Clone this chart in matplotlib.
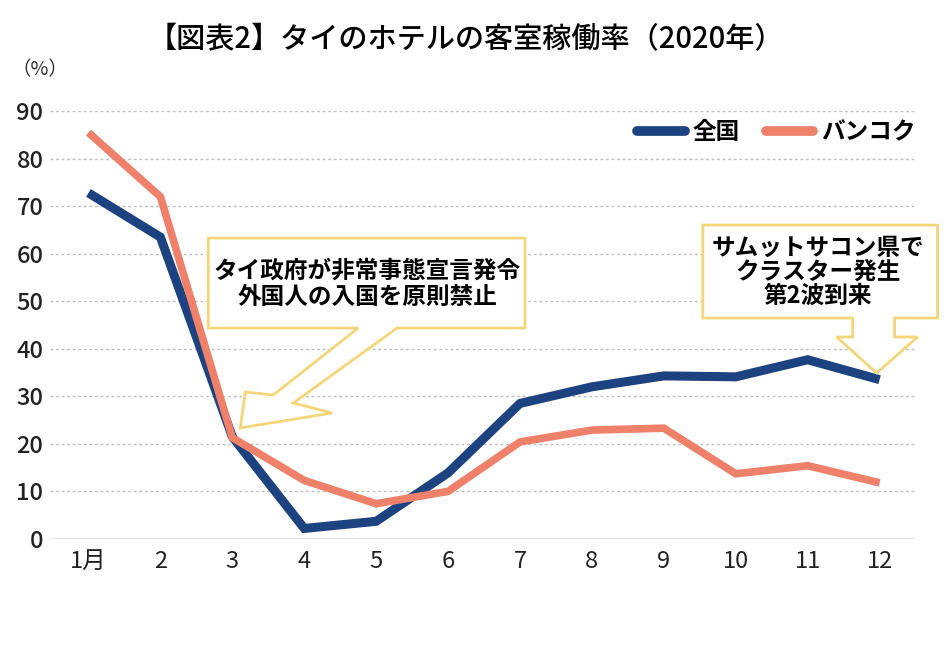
import matplotlib
matplotlib.use("Agg")
import matplotlib.pyplot as plt
from matplotlib.patches import Polygon

plt.rcParams['font.family'] = ['Noto Sans CJK JP', 'DejaVu Sans']

months = list(range(1, 13))
month_labels = ['1月', '2', '3', '4', '5', '6', '7', '8', '9', '10', '11', '12']
nationwide = [72.8, 63.5, 21.5, 2.2, 3.7, 13.9, 28.5, 32.0, 34.3, 34.1, 37.7, 33.5]
bangkok = [85.5, 72.0, 21.3, 12.3, 7.4, 10.0, 20.4, 22.9, 23.3, 13.7, 15.4, 11.8]
yticks = [0, 10, 20, 30, 40, 50, 60, 70, 80, 90]

navy = '#1c4280'
salmon = '#ef8069'
yellow = '#f3d67a'

fig = plt.figure(figsize=(9.5, 6.54), dpi=100)
ax = fig.add_axes([0.053, 0.176, 0.91, 0.654])

for v in yticks[1:]:
    ax.axhline(v, color='#bdbdbd', lw=1.0, ls=(0, (2, 2)), zorder=1)
ax.axhline(0, color='#e0e0e0', lw=1.8, zorder=1)

ax.plot(months, nationwide, color=navy, lw=6.5, solid_joinstyle='miter',
        solid_capstyle='butt', label='全国', zorder=3)
ax.plot(months, bangkok, color=salmon, lw=5.5, solid_joinstyle='miter',
        solid_capstyle='butt', label='バンコク', zorder=3)

ax.set_xlim(0.47, 12.49)
ax.set_ylim(0, 90)
ax.set_xticks(months)
ax.set_xticklabels(month_labels)
ax.set_yticks(yticks)
ax.tick_params(length=0, labelsize=17, colors='#222222', pad=8)
ax.tick_params(axis='y', pad=5)
for lab in ax.get_yticklabels():
    lab.set_fontweight('medium')
for s in ax.spines.values():
    s.set_visible(False)

leg = ax.legend(loc='center right', bbox_to_anchor=(1.026, 0.951), ncol=2, frameon=False,
                handlelength=2.0, columnspacing=1.1, handletextpad=0.35,
                prop={'size': 17, 'weight': 'bold'})
for line in leg.get_lines():
    line.set_solid_capstyle('round')
    line.set_linewidth(7)


def px(x, y):
    # convert reference pixel position to data coordinates
    return (1 + (x - 88) / 72.0, (539 - y) / 4.755)


call1 = [(208, 238), (525, 238), (525, 328), (397, 328), (293, 403), (332, 413),
         (240, 428), (245, 392), (273, 395), (358, 328), (208, 328)]
call2 = [(703, 225), (938, 225), (938, 318), (895, 318), (895, 337), (918, 337),
         (877, 373), (837, 337), (853, 337), (853, 318), (703, 318)]
for pts in (call1, call2):
    ax.add_patch(Polygon([px(*p) for p in pts], closed=True, facecolor='white',
                         edgecolor=yellow, lw=2, zorder=4, clip_on=False))

tx, ty = px(367, 284)
ax.text(tx, ty, 'タイ政府が非常事態宣言発令\n外国人の入国を原則禁止', ha='center', va='center',
        fontsize=17, fontweight='bold', linespacing=1.1, zorder=5)
tx, ty = px(818, 272)
ax.text(tx, ty, 'サムットサコン県で\nクラスター発生\n第2波到来', ha='center', va='center',
        fontsize=17, fontweight='bold', linespacing=1.0, zorder=5)

fig.text(0.49, 0.94, '【図表2】タイのホテルの客室稼働率（2020年）', ha='center', va='center',
         fontsize=21, fontweight='medium')
fig.text(0.012, 0.893, '（%）', ha='left', va='center', fontsize=14, color='#333333')

fig.savefig('out.png', dpi=100, facecolor='white')
